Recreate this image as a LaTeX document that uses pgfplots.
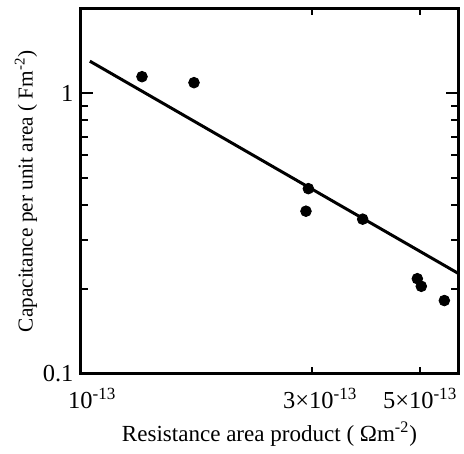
\documentclass[border=0pt]{standalone}
\usepackage{fontspec}
\setmainfont{Liberation Serif}
\usepackage{pgfplots}
\pgfplotsset{compat=1.18}
\begin{document}
\begin{tikzpicture}
\begin{loglogaxis}[
 scale only axis, width=190.5pt, height=183.5pt,
 xmin=1e-13, xmax=6e-13, ymin=0.1, ymax=2,
 axis line style={line width=1.5pt},
 tick style={line width=1pt, black},
 tick align=inside,
 major tick length=6.5pt, minor tick length=4pt,
 xtick=\empty,
 extra x ticks={1e-13,3e-13,5e-13},
 extra x tick labels={\phantom{\textsuperscript{-13}}10\textsuperscript{-13}, \hspace*{8pt}3×10\textsuperscript{-13}, 5×10\textsuperscript{-13}},
 extra x tick style={major tick length=3pt},
 minor xtick={2e-13,3e-13,4e-13,5e-13},
 ytick={0.1,1}, yticklabels={0.1,1},
 minor ytick={0.2,0.3,0.4,0.5,0.6,0.7,0.8,0.9},
 tick label style={font=\fontsize{12.3}{14}\selectfont},
 xticklabel style={yshift=-4pt},
 xlabel={Resistance area product ( Ωm\textsuperscript{-2})},
 ylabel={Capacitance per unit area ( Fm\textsuperscript{-2})},
 xlabel style={font=\fontsize{11.6}{13}\selectfont, yshift=0pt},
 ylabel style={font=\fontsize{10.7}{12}\selectfont, yshift=-4pt},
]
\addplot[only marks, mark=*, mark size=2.7pt, black] coordinates {
(1.339e-13,1.146) (1.713e-13,1.091) (2.944e-13,0.4566) (2.911e-13,0.3794)
(3.808e-13,0.3553) (4.932e-13,0.2178) (5.026e-13,0.2046) (5.606e-13,0.182)
};
\addplot[black, line width=1.5pt, no marks] coordinates {(1.046e-13,1.302) (6e-13,0.227)};
\end{loglogaxis}
\path ([xshift=-40.5pt, yshift=4.5pt]current axis.north west);
\path ([yshift=-36.5pt]current axis.south east);
\end{tikzpicture}
\end{document}
